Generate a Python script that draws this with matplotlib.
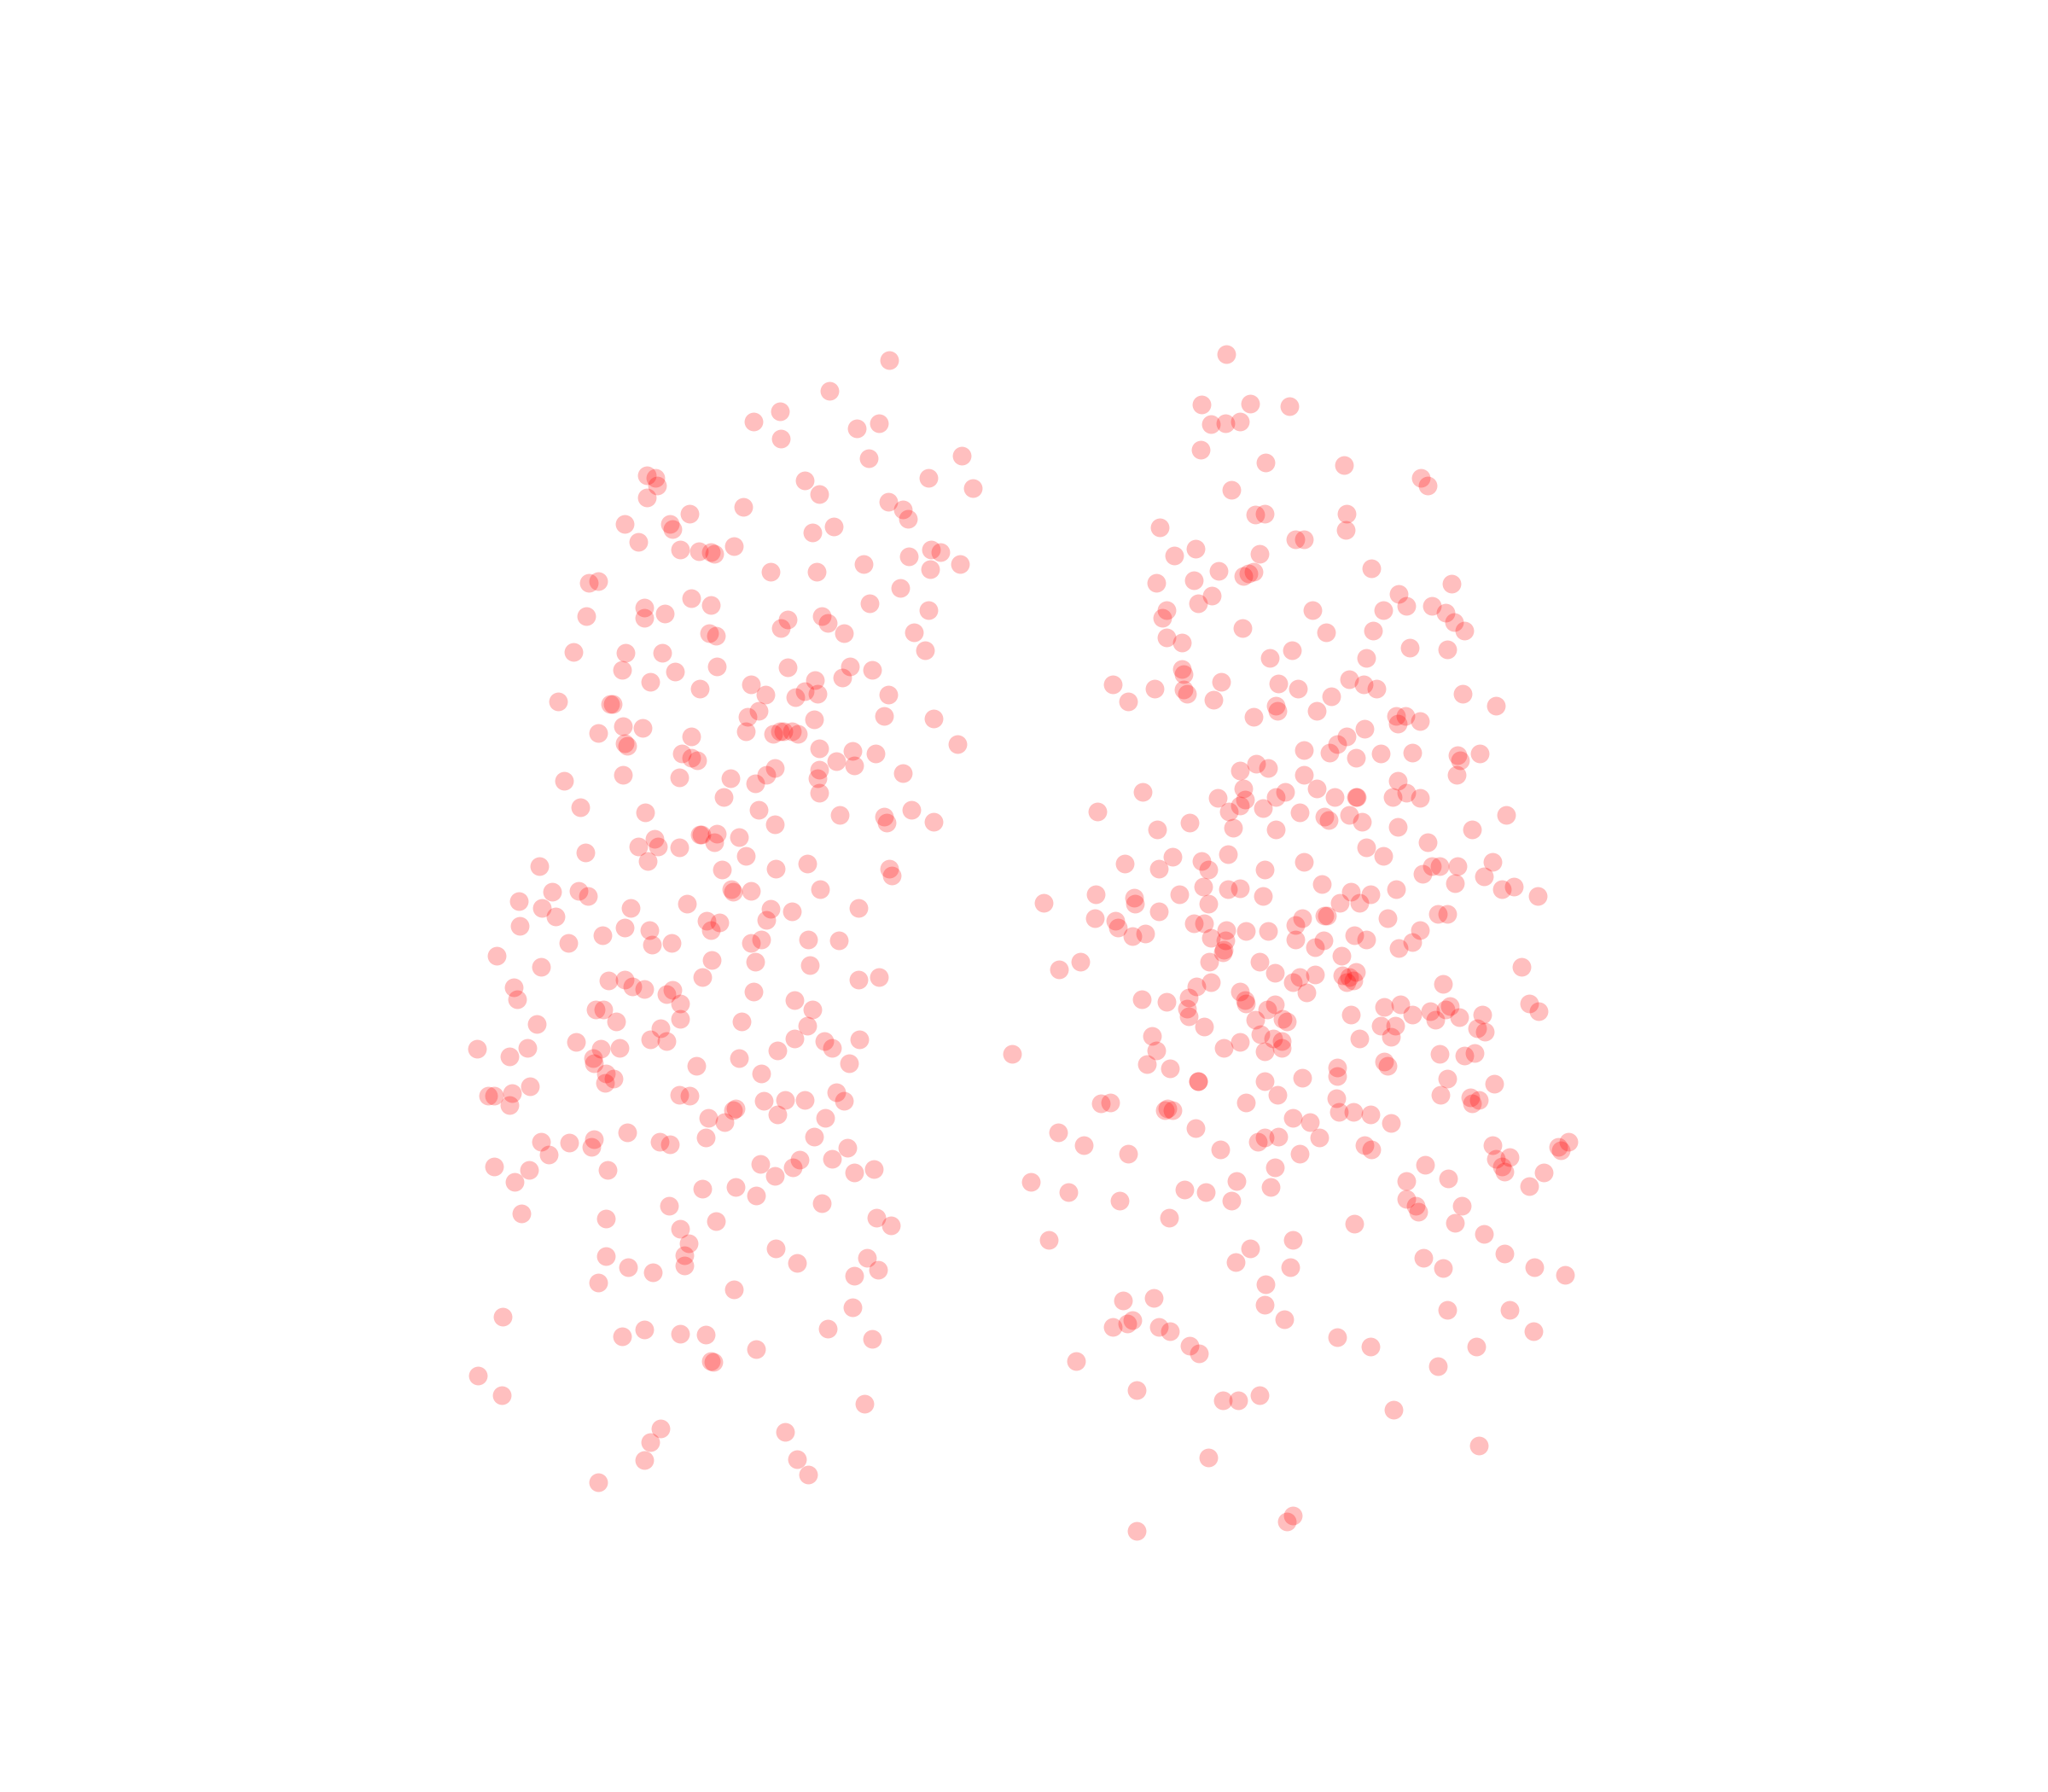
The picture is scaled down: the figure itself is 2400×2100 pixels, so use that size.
import matplotlib
matplotlib.use('Agg')
import matplotlib.pyplot as plt

# values
left = [(681,276),(635,299),(597,315),(577,323),(598,336),(656,328),(673,324),(665,351),(736,349),(745,374),(711,366),(616,368),(627,378),(680,384),(691,390),(695,397),(638,403),(622,408),(569,388),(528,393),(495,364),(502,366),(503,372),(495,381),(478,401),(513,401),(515,405),(489,415),(521,421),(535,422),(544,423),(547,424),(562,418),(590,438),(625,438),(661,432),(696,426),(713,421),(720,423),(735,432),(712,436),(689,450),(451,446),(458,445),(449,472),(493,465),(493,473),(509,470),(529,458),(544,463),(603,474),(598,481),(629,472),(634,477),(646,485),(666,462),(711,467),(700,484),(708,498),(543,485),(548,487),(439,499),(479,500),(476,513),(507,500),(517,514),(498,522),(536,527),(549,510),(575,524),(586,532),(603,511),(624,521),(616,529),(609,534),(626,531),(645,519),(651,510),(668,513),(680,532),(677,548),(715,550),(733,570),(427,537),(467,539),(469,539),(477,556),(492,557),(458,561),(478,569),(480,571),(529,564),(572,549),(581,544),(571,560),(592,562),(597,560),(600,560),(606,560),(611,562),(623,551),(627,573),(653,575),(670,577),(640,583),(654,586),(627,589),(626,596),(627,607),(691,592),(522,577),(529,580),(534,582),(477,593),(520,595),(559,596),(578,600),(587,593),(593,588),(432,598),(444,618),(554,610),(581,620),(494,622),(593,631),(643,624),(677,625),(679,630),(698,620),(715,629),(536,639),(537,639),(549,638),(566,641),(547,645),(501,642),(489,648),(504,648),(520,649),(571,655),(448,653),(496,659),(413,663),(553,666),(594,665),(618,661),(681,665),(683,670),(443,682),(423,683),(450,686),(560,681),(561,683),(575,682),(628,681),(397,690),(415,695),(425,702),(483,695),(526,692),(590,696),(606,698),(657,695),(587,704),(398,709),(478,710),(541,705),(551,706),(544,712),(497,712),(461,716),(435,722),(499,723),(514,722),(575,722),(583,719),(619,719),(642,720),(380,732),(414,740),(545,735),(578,736),(620,739),(466,751),(478,750),(484,755),(493,757),(538,748),(515,758),(510,761),(657,750),(673,748),(393,756),(396,765),(521,768),(577,759),(608,766),(622,773),(456,773),(462,773),(472,782),(411,784),(521,780),(568,782),(618,785),(506,787),(441,798),(498,796),(510,797),(474,802),(460,803),(404,802),(365,803),(390,809),(454,810),(455,814),(533,816),(566,810),(595,804),(608,795),(631,797),(637,802),(658,796),(650,814),(464,822),(470,826),(463,829),(406,832),(392,837),(374,839),(378,839),(390,846),(520,838),(528,839),(583,822),(585,843),(601,842),(616,842),(640,836),(646,843),(561,850),(563,849),(595,853),(632,856),(542,856),(555,859),(414,874),(436,875),(455,872),(453,878),(480,867),(505,874),(513,876),(540,871),(623,870),(649,879),(378,893),(405,896),(420,884),(394,905),(465,896),(582,891),(612,888),(607,894),(593,900),(637,887),(654,898),(669,895),(538,910),(563,909),(579,915),(512,923),(629,921),(399,929),(464,933),(548,935),(521,941),(671,932),(682,938),(527,952),(524,961),(594,956),(464,962),(481,970),(500,974),(524,969),(610,967),(664,963),(672,972),(654,977),(458,982),(562,987),(653,1001),(385,1008),(476,1023),(493,1018),(521,1021),(540,1022),(634,1017),(668,1025),(579,1033),(544,1042),(546,1043),(366,1053),(384,1068),(662,1075),(506,1094),(498,1104),(601,1096),(610,1117),(493,1118),(619,1129),(458,1135)]

right = [(939,271),(920,310),(957,309),(987,311),(927,325),(938,324),(949,323),(919,344),(969,354),(1029,356),(1088,366),(1093,372),(943,375),(961,394),(968,393),(1031,393),(1030,406),(888,404),(992,413),(998,413),(915,420),(899,425),(964,424),(933,437),(952,441),(956,439),(960,438),(1050,435),(885,446),(914,444),(1111,447),(928,456),(917,462),(1071,455),(1077,464),(1059,467),(1096,464),(1107,469),(1005,467),(893,467),(890,473),(951,481),(1015,484),(1051,483),(1113,476),(1121,483),(893,488),(905,492),(989,498),(972,504),(1079,496),(1108,497),(1046,504),(905,512),(906,516),(852,524),(884,527),(906,528),(909,531),(935,522),(979,523),(994,527),(1033,520),(1044,524),(1054,527),(1019,533),(1120,531),(864,537),(929,536),(977,540),(978,544),(1008,544),(1145,540),(960,549),(1069,548),(1076,548),(1070,554),(1087,552),(1045,558),(1031,564),(1024,570),(1018,576),(998,574),(1038,580),(1057,577),(1081,576),(1116,578),(1118,582),(1133,577),(962,585),(971,588),(949,590),(998,593),(1115,593),(1070,598),(952,604),(984,606),(1008,604),(875,606),(932,611),(953,612),(977,610),(1022,610),(1038,610),(1039,610),(1066,610),(1077,607),(1087,611),(840,621),(949,617),(941,621),(967,619),(995,622),(1033,624),(1014,625),(1017,628),(1043,629),(1153,624),(886,635),(911,630),(944,634),(977,635),(1070,633),(1127,635),(1093,645),(1046,649),(1059,655),(940,654),(898,656),(861,661),(887,665),(920,659),(925,666),(968,666),(998,660),(1096,663),(1102,663),(1116,663),(1143,660),(1089,669),(1136,671),(1114,676),(1012,677),(1150,681),(1159,679),(1177,686),(921,679),(940,681),(949,680),(1034,683),(1049,685),(1069,681),(839,685),(868,687),(869,692),(903,685),(967,686),(1026,691),(1041,691),(799,691),(887,698),(925,692),(1014,701),(1016,701),(1101,700),(1108,700),(838,703),(854,705),(856,710),(914,707),(922,707),(997,703),(992,708),(1062,703),(877,715),(867,717),(927,718),(939,712),(954,713),(971,713),(1037,716),(1046,719),(1087,712),(1081,721),(992,719),(1013,720),(1007,725),(938,720),(937,727),(936,729),(1071,726),(1027,732),(827,736),(811,742),(926,736),(964,736),(1165,740),(976,745),(1007,746),(1038,744),(1028,747),(1033,748),(1031,752),(1036,751),(995,748),(990,752),(1000,760),(1105,753),(927,752),(916,755),(949,759),(874,765),(893,767),(910,764),(953,766),(954,768),(976,769),(970,773),(909,772),(910,778),(1034,777),(1060,771),(1072,769),(1081,777),(1095,774),(1107,773),(1110,770),(1117,779),(1099,781),(1135,777),(1171,768),(1178,774),(922,786),(961,781),(982,780),(985,782),(1057,785),(1068,785),(1131,787),(1137,790),(882,793),(965,792),(975,795),(981,797),(1041,795),(1065,794),(949,798),(937,802),(885,804),(968,805),(981,802),(1102,807),(1121,808),(1129,806),(775,807),(878,815),(896,818),(1060,813),(1062,816),(1024,817),(1024,824),(917,828),(917,828),(968,828),(997,825),(1108,826),(1144,830),(978,838),(1103,838),(1126,840),(1023,841),(1127,845),(1132,842),(843,845),(850,844),(954,844),(892,850),(894,849),(898,850),(1025,851),(1036,851),(1049,853),(990,856),(1003,859),(1065,860),(915,864),(810,867),(963,874),(968,871),(979,870),(1010,871),(830,877),(864,883),(934,880),(995,883),(1045,877),(1050,880),(1143,877),(1145,887),(1156,886),(1201,874),(1193,878),(1195,881),(1150,893),(1152,897),(1182,898),(1091,892),(1109,902),(976,894),(947,904),(789,905),(818,913),(857,919),(907,911),(923,913),(973,909),(943,919),(1077,904),(1077,918),(1084,923),(1086,928),(1119,923),(1171,908),(895,932),(1037,937),(1114,936),(803,949),(990,949),(957,956),(1136,945),(946,966),(988,970),(1090,963),(1105,971),(1152,960),(1175,970),(1198,976),(969,983),(860,996),(883,994),(968,999),(1108,1003),(1156,1003),(983,1010),(852,1016),(863,1013),(867,1011),(887,1016),(896,1019),(911,1030),(918,1036),(1024,1024),(1049,1031),(1130,1031),(1174,1019),(824,1042),(1101,1046),(870,1064),(936,1072),(948,1072),(964,1068),(1067,1079),(1132,1107),(925,1116),(990,1160),(985,1165),(870,1172)]

x_left = [p[0] for p in left]
y_left = [p[1] for p in left]
x_right = [p[0] for p in right]
y_right = [p[1] for p in right]

fig = plt.figure(figsize=(12, 10.5), dpi=200)
ax = fig.add_axes([0, 0, 1, 1])
ax.scatter(x_left + x_right, y_left + y_right, s=62, c='red', alpha=0.25, linewidths=0)
ax.set_xlim(0, 1568)
ax.set_ylim(1372, 0)
ax.axis('off')

plt.savefig('out.png', dpi=200)
